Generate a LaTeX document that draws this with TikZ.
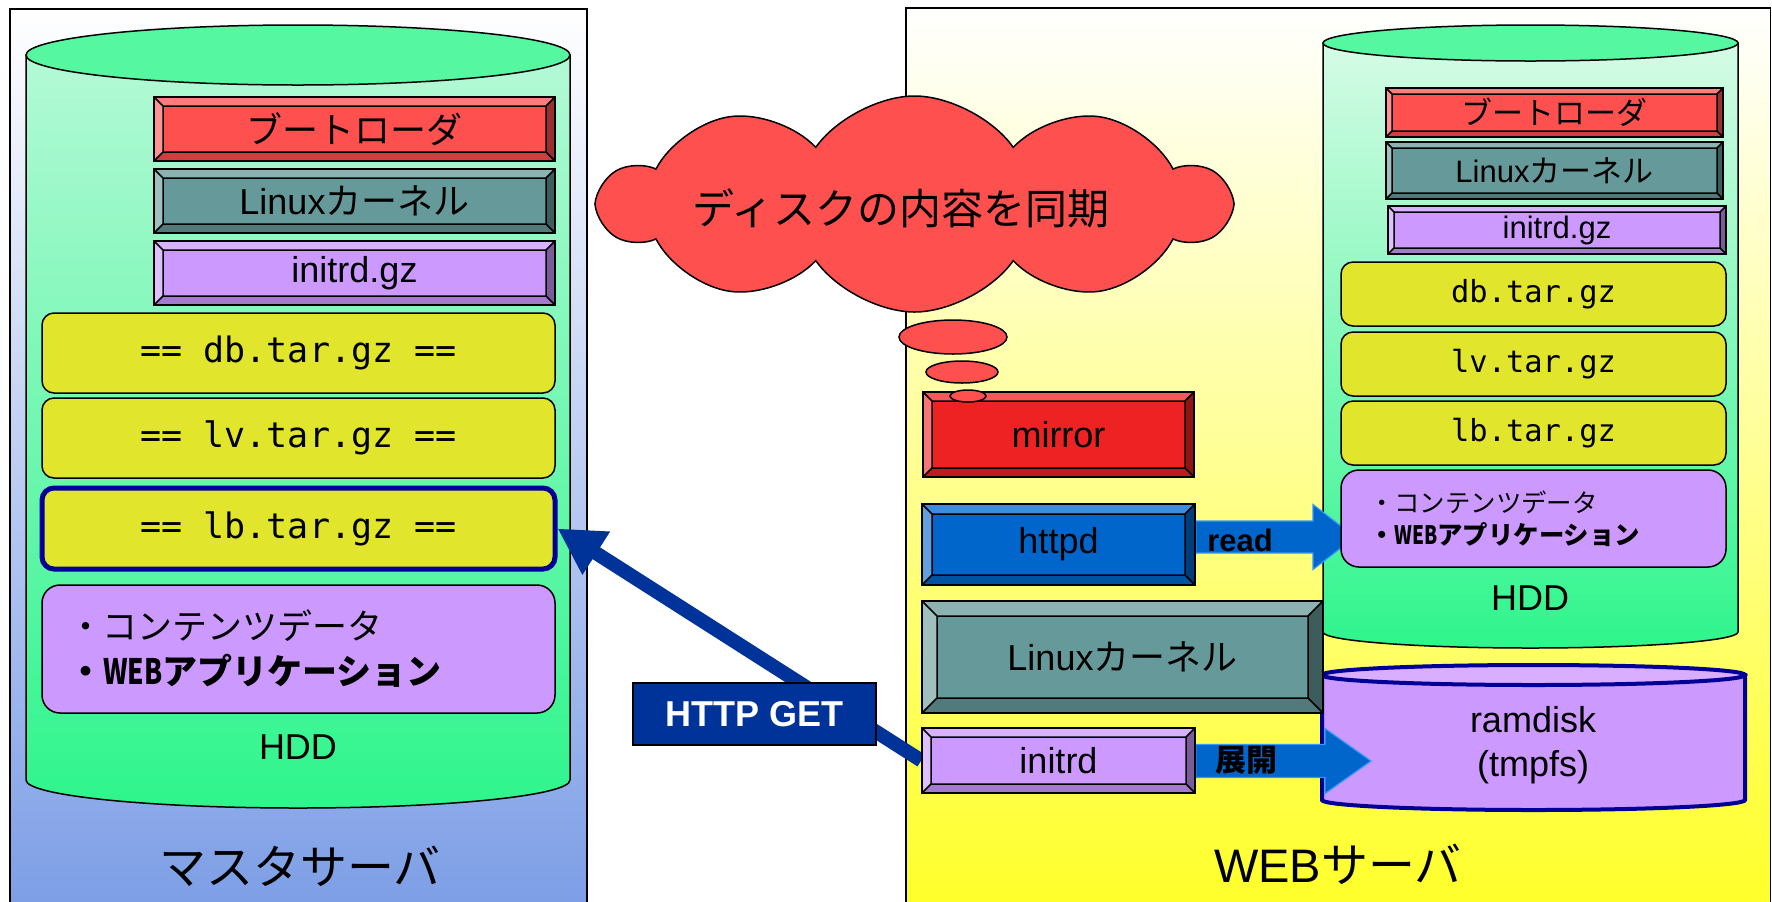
\documentclass[tikz,border=0pt]{standalone}
\usepackage{fontspec}
\setmainfont{Liberation Sans}
\newfontfamily\jp{Noto Sans CJK JP}
\newfontfamily\mono{DejaVu Sans Mono}
\usetikzlibrary{arrows.meta,shapes.symbols,calc}
\pgfdeclarelayer{bg}
\pgfdeclarelayer{arr}
\pgfsetlayers{bg,arr,main}
\definecolor{cred}{HTML}{FF5050}
\definecolor{cteal}{HTML}{669999}
\definecolor{cpurp}{HTML}{CC99FF}
\definecolor{cpurpl}{HTML}{D9ADFF}
\definecolor{cyel}{HTML}{E1E62C}
\definecolor{cmir}{HTML}{EE2222}
\definecolor{cblue}{HTML}{0066CC}
\definecolor{cblueb}{HTML}{3399FF}
\definecolor{cnavy}{HTML}{000099}
\definecolor{cget}{HTML}{003399}
\definecolor{cmint}{HTML}{55F8A0}
\definecolor{cmintt}{HTML}{B4F9D6}
\definecolor{cminttr}{HTML}{D6FBE6}
\definecolor{cmintb}{HTML}{2EF58C}
\definecolor{cbluebg}{HTML}{7D9EE6}
\definecolor{cbluemid}{HTML}{C4D2F2}
\definecolor{cyelbg}{HTML}{FFFF2A}
\definecolor{cyelmid}{HTML}{FFFFB8}
\definecolor{carrow}{HTML}{ED1C24}
\newcommand{\fsz}[1]{\fontsize{#1pt}{#1pt}\selectfont}
\tikzset{
  sz/.style 2 args={minimum width=#1*0.5pt, minimum height=#2*0.5pt, inner sep=0pt},
  bevel/.style 2 args={draw=black, line width=0.75pt, fill=#1,
    path picture={
      \path (path picture bounding box.south west) coordinate (bvsw)
            (path picture bounding box.north east) coordinate (bvne)
            (path picture bounding box.north west) coordinate (bvnw)
            (path picture bounding box.south east) coordinate (bvse)
            ([xshift=#2,yshift=#2]path picture bounding box.south west) coordinate (bvisw)
            ([xshift=-#2,yshift=-#2]path picture bounding box.north east) coordinate (bvine)
            ([xshift=#2,yshift=-#2]path picture bounding box.north west) coordinate (bvinw)
            ([xshift=-#2,yshift=#2]path picture bounding box.south east) coordinate (bvise);
      \fill[#1!75!white] (bvnw) -- (bvne) -- (bvine) -- (bvinw) -- cycle;
      \fill[#1!62!white] (bvnw) -- (bvinw) -- (bvisw) -- (bvsw) -- cycle;
      \fill[#1!80!black] (bvsw) -- (bvisw) -- (bvise) -- (bvse) -- cycle;
      \fill[#1!60!black] (bvse) -- (bvise) -- (bvine) -- (bvne) -- cycle;
      \draw[line width=0.75pt] (bvinw) rectangle (bvise)
        (bvnw) -- (bvinw) (bvne) -- (bvine) (bvsw) -- (bvisw) (bvse) -- (bvise);
    }},
  tarbox/.style={draw=black, line width=0.75pt, fill=cyel, rounded corners=6pt},
  contbox/.style={draw=black, line width=0.75pt, fill=cpurp, rounded corners=9pt},
  outl/.style={draw=black, line width=0.75pt},
  redarrow/.style={draw=none, carrow, line width=8pt},
  bluearrow/.style={fill=cblue, draw=cblueb, line width=0.6pt},
}
\begin{document}
\begin{tikzpicture}[x=0.5pt, y=-0.5pt]
\useasboundingbox (0,0) rectangle (1772,901);
\begin{pgfonlayer}{bg}
\fill[white] (0,0) rectangle (1772,901);
% panels
\path[outl, top color=white, middle color=cbluemid, bottom color=cbluebg] (10,9) rectangle (587,905);
\path[outl, top color=white, middle color=cyelmid, bottom color=cyelbg] (906,8) rectangle (1770.5,905);
% master HDD cylinder
\path[outl, top color=cmintt, bottom color=cmintb] (26,55) -- (26,780) arc[start angle=180, end angle=0, x radius=272, y radius=28] -- (570,55) -- cycle;
\draw[outl, fill=cmint] (298,55) ellipse[x radius=272, y radius=30];
% web HDD cylinder
\path[outl, top color=cminttr, bottom color=cmintb] (1323,43) -- (1323,632) arc[start angle=180, end angle=0, x radius=207.5, y radius=16] -- (1738,43) -- cycle;
\draw[outl, fill=cmint] (1530.5,43) ellipse[x radius=207.5, y radius=18];
% ramdisk cylinder
\path[draw=cnavy, line width=2pt, fill=cpurp] (1322,675) -- (1322,800) arc[start angle=180, end angle=0, x radius=211.5, y radius=10] -- (1745,675) -- cycle;
\draw[draw=cnavy, line width=2pt, fill=cpurpl] (1533.5,675) ellipse[x radius=211.5, y radius=10];
\end{pgfonlayer}

% ---- master server contents
\node[bevel={cred}{4.5pt}, sz={401}{64}, font=\jp\fsz{18}] (mboot) at (354.5,129) {ブートローダ};
\node[bevel={cteal}{4.5pt}, sz={401}{64}, font=\fsz{18}] (mkern) at (354.5,201) {Linux{\jp カーネル}};
\node[bevel={cpurp}{4.5pt}, sz={401}{64}, font=\fsz{18}] (minit) at (354.5,273) {initrd.gz};
\node[tarbox, sz={513}{80}, font=\mono\fsz{17.5}] (mdb) at (298.5,353) {== db.tar.gz ==};
\node[tarbox, sz={513}{80}, font=\mono\fsz{17.5}] (mlv) at (298.5,438) {== lv.tar.gz ==};
\node[tarbox, draw=cnavy, line width=2.5pt, sz={513}{81}, font=\mono\fsz{17.5}] (mlb) at (298.5,528.5) {== lb.tar.gz ==};
\node[contbox, sz={513}{128}, text width=230.5pt, inner xsep=13pt, align=left,
      font=\jp\fontsize{17.5pt}{22.5pt}\selectfont] (mcont) at (298.5,649)
      {・コンテンツデータ\\\textbf{・\scalebox{0.75}[1]{WEB}アプリケーション}};
\node[font=\fsz{18}] (mhddl) at (298,747) {HDD};
\node[font=\jp\fsz{23.5}] (mname) at (300,866) {マスタサーバ};

% ---- web server HDD contents
\node[bevel={cred}{3pt}, sz={337}{49}, font=\jp\fsz{15.5}] (wboot) at (1554.5,112.5) {ブートローダ};
\node[bevel={cteal}{3pt}, sz={337}{57}, font=\fsz{15.5}] (wkern) at (1554.5,170.5) {Linux{\jp カーネル}};
\node[bevel={cpurp}{3pt}, sz={338}{48}, font=\fsz{15.5}] (winit) at (1557,230) {initrd.gz};
\node[tarbox, sz={385}{64}, font=\mono\fsz{15.2}] (wdb) at (1533.5,294) {db.tar.gz};
\node[tarbox, sz={385}{64}, font=\mono\fsz{15.2}] (wlv) at (1533.5,364) {lv.tar.gz};
\node[tarbox, sz={385}{64}, font=\mono\fsz{15.2}] (wlb) at (1533.5,433) {lb.tar.gz};
\node[contbox, sz={385}{97}, text width=164.5pt, inner xsep=14pt, align=left,
      font=\jp\fontsize{12.7pt}{16pt}\selectfont] (wcont) at (1533.5,518.5)
      {・コンテンツデータ\\\textbf{・\scalebox{0.75}[1]{WEB}アプリケーション}};
\node[font=\fsz{18}] (whddl) at (1530,598) {HDD};
\node[align=center, font=\fontsize{18pt}{22pt}\selectfont] (ramtxt) at (1533,745) {ramdisk\\(tmpfs)};

% ---- web server processes
\node[bevel={cmir}{4.5pt}, sz={271}{85}, font=\fsz{18}] (mirror) at (1058.5,434.5) {mirror};
\node[bevel={cblue}{5pt}, sz={273}{81}, font=\fsz{18}] (httpd) at (1058.5,544.5) {httpd};
\node[bevel={cteal}{7.5pt}, sz={401}{112}, font=\fsz{18}] (wkernbig) at (1122.5,657) {Linux{\jp カーネル}};
\node[bevel={cpurp}{4.5pt}, sz={273}{65}, font=\fsz{18}] (initrd) at (1058.5,760.5) {initrd};
\node[font=\jp\fsz{23.5}] (wname) at (1338,864) {\rmfamily WEB{\jp サーバ}};

% ---- cloud
\node[cloud, cloud puffs=10, cloud puff arc=110, aspect=3, outl, fill=cred,
      minimum width=313.5pt, minimum height=108pt, inner sep=0pt] (cloud) at (914.5,204) {};
\node[font=\jp\fsz{21}] (cloudtxt) at (901,208) {ディスクの内容を同期};
\draw[outl, fill=cred] (953,337) ellipse[x radius=54, y radius=17];
\draw[outl, fill=cred] (962,372) ellipse[x radius=36, y radius=11];
\draw[outl, fill=cred] (968,396) ellipse[x radius=18, y radius=6];

% ---- connectors
\begin{pgfonlayer}{arr}
\coordinate (ms) at (571,424);
\coordinate (whdd) at (1322,424);
\coordinate (rtip) at (1355,537);
\coordinate (etip) at (1371,761);
\draw[redarrow, -{Triangle[length=23pt,width=27pt]}] (ms) -- (mirror.west |- ms);
\draw[redarrow, -{Triangle[length=25.5pt,width=27pt]}] (mirror.east |- ms) -- (whdd);
\filldraw[bluearrow] ($(httpd.east |- rtip)+(0,-16)$) -- ($(rtip)+(-42,-16)$) -- ($(rtip)+(-42,-32.5)$)
   -- (rtip) -- ($(rtip)+(-42,32.5)$) -- ($(rtip)+(-42,16)$) -- ($(httpd.east |- rtip)+(0,16)$) -- cycle;
\filldraw[bluearrow] ($(initrd.east |- etip)+(0,-16.5)$) -- ($(etip)+(-46,-16.5)$) -- ($(etip)+(-46,-32.5)$)
   -- (etip) -- ($(etip)+(-46,32.5)$) -- ($(etip)+(-46,16.5)$) -- ($(initrd.east |- etip)+(0,16.5)$) -- cycle;
\draw[cget, line width=7pt, -{Triangle[length=23pt,width=24pt]}] (initrd.west) -- (mlb.east);
\end{pgfonlayer}
\node[font=\bfseries\fsz{15.5}] (readl) at (1240,540) {read};
\node[font=\jp\bfseries\fsz{15.5}] (tenkai) at (1246,760) {展開};
\node[fill=cget, outl, sz={243}{62}, text=white, font=\bfseries\fsz{18}] (get) at (754.5,714) {HTTP GET};
\end{tikzpicture}
\end{document}
